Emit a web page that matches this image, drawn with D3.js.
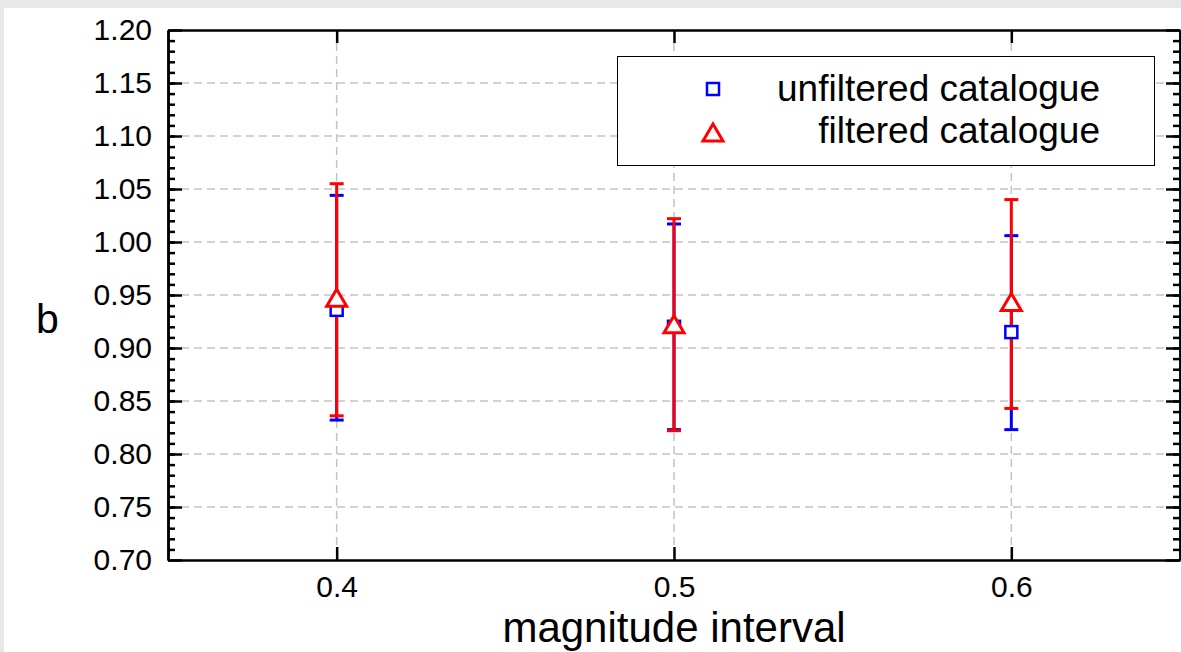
<!DOCTYPE html>
<html>
<head>
<meta charset="utf-8">
<script src="https://cdn.jsdelivr.net/npm/d3@7"></script>
<style>
  html, body { margin: 0; padding: 0; background: #e8e8e8; }
  svg { display: block; }
  text { font-family: "Liberation Sans", Arial, sans-serif; fill: #000; }
</style>
</head>
<body>
<svg id="paper"></svg>
<script>
// magnitude intervals (x)
let intervals = [0.4, 0.5, 0.6];

// b-values and error bar limits, unfiltered catalogue
let unfilteredB = [0.936, 0.920, 0.915];
let unfilteredLow = [0.832, 0.823, 0.823];
let unfilteredHigh = [1.044, 1.017, 1.006];

// b-values and error bar limits, filtered catalogue
let filteredB = [0.947, 0.922, 0.943];
let filteredLow = [0.836, 0.822, 0.843];
let filteredHigh = [1.055, 1.022, 1.040];

let xTicks = [0.4, 0.5, 0.6];
let yTicks = [0.70, 0.75, 0.80, 0.85, 0.90, 0.95, 1.00, 1.05, 1.10, 1.15, 1.20];
let seriesNames = ["unfiltered catalogue", "filtered catalogue"];

let W = 1181, H = 652;
let margin = {top: 30, right: 1, bottom: 92, left: 168},
    width = W - margin.left - margin.right,
    height = H - margin.top - margin.bottom;

let svg = d3.select("#paper").attr("width", W).attr("height", H);

// white figure panel over grey window
svg.append("rect").attr("x", 4).attr("y", 8).attr("width", W - 4).attr("height", H - 8).attr("fill", "#fff");

let g = svg.append("g").attr("transform", "translate(" + margin.left + "," + margin.top + ")");

let x = d3.scaleLinear().domain([0.35, 0.65]).range([0, width]);
let y = d3.scaleLinear().domain([0.70, 1.20]).range([height, 0]);

// grid
g.selectAll(".vgrid").data(xTicks).enter().append("line")
    .attr("x1", d => x(d)).attr("x2", d => x(d))
    .attr("y1", 0).attr("y2", height)
    .attr("stroke", "#c4c4c4").attr("stroke-width", 1.5).attr("stroke-dasharray", "8,5");
g.selectAll(".hgrid").data(yTicks.slice(1, -1)).enter().append("line")
    .attr("x1", 0).attr("x2", width)
    .attr("y1", d => y(d)).attr("y2", d => y(d))
    .attr("stroke", "#c4c4c4").attr("stroke-width", 1.5).attr("stroke-dasharray", "8,5");

// minor ticks every 0.01
let minor = d3.range(71, 120).map(d => d / 100);

function styleAxis(sel) {
    sel.select(".domain").attr("stroke", "#000").attr("stroke-width", 2.5);
    sel.selectAll(".tick line").attr("stroke", "#000").attr("stroke-width", 2.5);
    sel.selectAll("text").style("font-size", "30px").attr("fill", "#000");
}

g.append("g").call(d3.axisLeft(y).tickValues(minor).tickSize(-7).tickSizeOuter(0).tickFormat(""))
    .call(styleAxis);
g.append("g").attr("transform", "translate(" + width + ",0)")
    .call(d3.axisRight(y).tickValues(minor).tickSize(-7).tickSizeOuter(0).tickFormat(""))
    .call(styleAxis);

g.append("g")
    .call(d3.axisLeft(y).tickValues(yTicks).tickSizeInner(-14).tickSizeOuter(0).tickPadding(16).tickFormat(d3.format(".2f")))
    .call(styleAxis);
g.append("g").attr("transform", "translate(" + width + ",0)")
    .call(d3.axisRight(y).tickValues(yTicks).tickSizeInner(-14).tickSizeOuter(0).tickFormat(""))
    .call(styleAxis);
g.append("g").attr("transform", "translate(0," + height + ")")
    .call(d3.axisBottom(x).tickValues(xTicks).tickSizeInner(-13).tickSizeOuter(0).tickPadding(16).tickFormat(d3.format(".1f")))
    .call(styleAxis);
g.append("g")
    .call(d3.axisTop(x).tickValues(xTicks).tickSizeInner(-13).tickSizeOuter(0).tickFormat(""))
    .call(styleAxis);

// axis titles
svg.append("text").attr("x", margin.left + x(0.5)).attr("y", 642)
    .attr("text-anchor", "middle").style("font-size", "42px").text("magnitude interval");
svg.append("text").attr("x", 36).attr("y", 333)
    .style("font-size", "41px").text("b");

// series
let unfiltered = intervals.map((d, i) => ({x: d, b: unfilteredB[i], lo: unfilteredLow[i], hi: unfilteredHigh[i]}));
let filtered = intervals.map((d, i) => ({x: d, b: filteredB[i], lo: filteredLow[i], hi: filteredHigh[i]}));

function errorBars(data, color, cls) {
    let eb = g.selectAll("." + cls).data(data).enter().append("g").classed(cls, true);
    eb.append("line")
        .attr("x1", d => x(d.x)).attr("x2", d => x(d.x))
        .attr("y1", d => y(d.lo)).attr("y2", d => y(d.hi))
        .attr("stroke", color).attr("stroke-width", 3);
    eb.append("line")
        .attr("x1", d => x(d.x) - 7).attr("x2", d => x(d.x) + 7)
        .attr("y1", d => y(d.lo)).attr("y2", d => y(d.lo))
        .attr("stroke", color).attr("stroke-width", 3);
    eb.append("line")
        .attr("x1", d => x(d.x) - 7).attr("x2", d => x(d.x) + 7)
        .attr("y1", d => y(d.hi)).attr("y2", d => y(d.hi))
        .attr("stroke", color).attr("stroke-width", 3);
}

errorBars(unfiltered, "#0000ff", "eb_unf");
errorBars(filtered, "#ff0000", "eb_fil");

let trianglePath = "M0,-10 L10,7 L-10,7 Z";

g.selectAll(".sq").data(unfiltered).enter().append("rect")
    .attr("x", d => x(d.x) - 6).attr("y", d => y(d.b) - 6)
    .attr("width", 12).attr("height", 12)
    .attr("fill", "#fff").attr("stroke", "#0000ff").attr("stroke-width", 2.5);

g.selectAll(".tri").data(filtered).enter().append("path")
    .attr("transform", d => "translate(" + x(d.x) + "," + (y(d.b) + 1) + ")")
    .attr("d", trianglePath)
    .attr("fill", "#fff").attr("stroke", "#ff0000").attr("stroke-width", 3);

// legend
let legend = svg.append("g");
legend.append("rect").attr("x", 617.5).attr("y", 56.5).attr("width", 537).attr("height", 109)
    .attr("fill", "#fff").attr("stroke", "#000").attr("stroke-width", 1);
legend.append("rect").attr("x", 707).attr("y", 83).attr("width", 12).attr("height", 12)
    .attr("fill", "#fff").attr("stroke", "#0000ff").attr("stroke-width", 2.5);
legend.append("path").attr("transform", "translate(713,134)").attr("d", trianglePath)
    .attr("fill", "#fff").attr("stroke", "#ff0000").attr("stroke-width", 3);
legend.selectAll(".ltext").data(seriesNames).enter().append("text")
    .attr("x", 1100).attr("y", (d, i) => 101 + i * 42)
    .attr("text-anchor", "end").style("font-size", "37px").text(d => d);
</script>
</body>
</html>
